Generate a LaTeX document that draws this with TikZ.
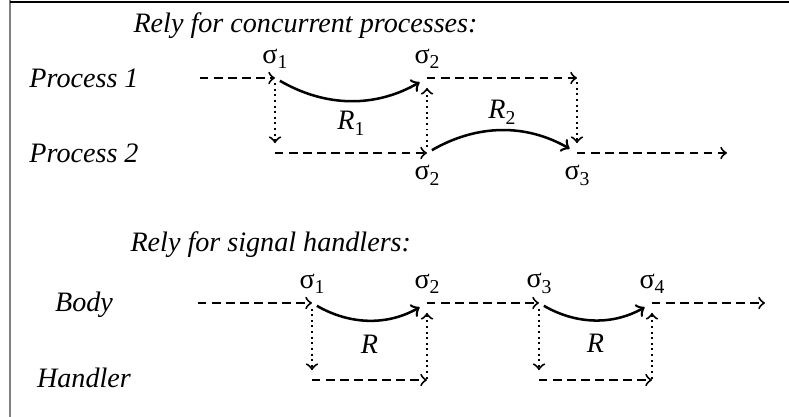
\documentclass[tikz,border=0pt]{standalone}
\usepackage{fontspec}
\setmainfont{Liberation Serif}
\usetikzlibrary{positioning, arrows.meta}

\newcommand{\stsub}[2]{#1\raisebox{-0.45ex}{\scriptsize #2}}

\begin{document}
\begin{tikzpicture}[x=0.0125cm, y=-0.0125cm, >=to,
    flow/.style={->, dash pattern=on 3pt off 2pt, line width=0.7pt},
    jump/.style={->, dash pattern=on 0.7pt off 1.3pt, line width=0.7pt},
    rely/.style={->, line width=0.9pt, shorten <=2pt, shorten >=3pt},
    lbl/.style={font=\itshape, inner sep=0pt},
    sig/.style={inner sep=0pt}]
            \useasboundingbox (0,0) rectangle (789,417);
            \draw[gray, line width=0.5pt] (10,0) -- (10,417);
            \draw[line width=0.6pt] (10,2) -- (789,2);

            % concurrent processes
            \node[lbl, anchor=base west] (title1) at (133,33) {Rely for concurrent processes:};
            \node[lbl, anchor=base] (proc1) at (84,88) {Process 1};
            \node[lbl, anchor=base] (proc2) at (84,163) {Process 2};

            \coordinate (p1start) at (200,78);
            \coordinate (p1s1) at (275,78);
            \coordinate (p1s2) at (427,78);
            \coordinate (p1end) at (577,78);
            \coordinate (p2s1) at (275,153);
            \coordinate (p2s2) at (427,153);
            \coordinate (p2s3) at (577,153);
            \coordinate (p2end) at (727,153);

            \node[sig, above=3pt of p1s1] {\stsub{σ}{1}};
            \node[sig, above=3pt of p1s2] {\stsub{σ}{2}};
            \node[sig, below=4pt of p2s2] {\stsub{σ}{2}};
            \node[sig, below=4pt of p2s3] {\stsub{σ}{3}};

            \draw[flow] (p1start) -- (p1s1);
            \draw[flow] (p1s2) -- (p1end);
            \draw[flow] (p2s1) -- (p2s2);
            \draw[flow] (p2s3) -- (p2end);
            \draw[jump, shorten <=1.8pt, shorten >=3.5pt] (p1s1) -- (p2s1);
            \draw[jump, shorten <=2pt, shorten >=3.5pt] (p2s2) -- (p1s2);
            \draw[jump, shorten <=1.5pt, shorten >=3.5pt] (p1end) -- (p2s3);

            \draw[rely] (p1s1) to[bend right=30] node[below] {\stsub{\textit{R}}{1}} (p1s2);
            \draw[rely] (p2s2) to[bend left=30] node[above, inner sep=2pt] {\stsub{\textit{R}}{2}} (p2s3);

            % signal handlers
            \node[lbl, anchor=base west] (title2) at (130,252) {Rely for signal handlers:};
            \node[lbl, anchor=base] (body) at (84,312) {Body};
            \node[lbl, anchor=base] (handler) at (84,388) {Handler};

            \coordinate (bstart) at (198,303);
            \coordinate (bs1) at (312,303);
            \coordinate (bs2) at (427,303);
            \coordinate (bs3) at (539,303);
            \coordinate (bs4) at (652,303);
            \coordinate (bend) at (765,303);
            \coordinate (h1) at (312,380);
            \coordinate (h2) at (427,380);
            \coordinate (h3) at (539,380);
            \coordinate (h4) at (652,380);

            \node[sig, above=3pt of bs1] {\stsub{σ}{1}};
            \node[sig, above=3pt of bs2] {\stsub{σ}{2}};
            \node[sig, above=3pt of bs3] {\stsub{σ}{3}};
            \node[sig, above=3pt of bs4] {\stsub{σ}{4}};

            \draw[flow] (bstart) -- (bs1);
            \draw[flow] (bs2) -- (bs3);
            \draw[flow] (bs4) -- (bend);
            \draw[flow] (h1) -- (h2);
            \draw[flow] (h3) -- (h4);
            \draw[jump, shorten <=2pt, shorten >=3.5pt] (bs1) -- (h1);
            \draw[jump, shorten <=0.5pt, shorten >=3.5pt] (h2) -- (bs2);
            \draw[jump, shorten <=2pt, shorten >=3.5pt] (bs3) -- (h3);
            \draw[jump, shorten <=0.5pt, shorten >=3.5pt] (h4) -- (bs4);

            \draw[rely] (bs1) to[bend right=30] node[below=1.5pt] {\textit{R}} (bs2);
            \draw[rely] (bs3) to[bend right=30] node[below=1.5pt] {\textit{R}} (bs4);

        \end{tikzpicture}
\end{document}
